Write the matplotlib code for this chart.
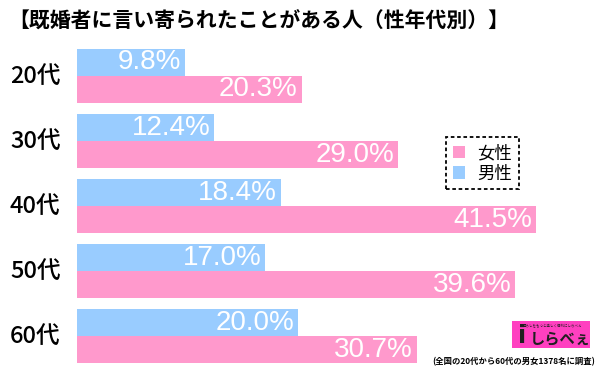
import matplotlib
matplotlib.use("Agg")
import matplotlib.pyplot as plt
import matplotlib.transforms as mtransforms
from matplotlib.patches import Patch, Rectangle
import numpy as np

plt.rcParams['font.family'] = ['Noto Sans CJK JP', 'DejaVu Sans']

# data
ages = ['20代', '30代', '40代', '50代', '60代']
male = [9.8, 12.4, 18.4, 17.0, 20.0]
female = [20.3, 29.0, 41.5, 39.6, 30.7]

title = '【既婚者に言い寄られたことがある人（性年代別）】'
note = '(全国の20代から60代の男女1378名に調査)'

blue = '#99ccff'
pink = '#ff99cc'

fig = plt.figure(figsize=(6, 3.71), dpi=100)
ax = fig.add_axes([77/600, 0, 523/600, 1])
ax.set_xlim(0, 523/11.07)
ax.set_ylim(4.538, -1.169)  # inverted so 20代 is on top
ax.axis('off')

y = np.arange(len(ages))
h = 27/65
ax.barh(y - h/2, male, height=h, color=blue, edgecolor='none')
ax.barh(y + h/2, female, height=h, color=pink, edgecolor='none')

# value labels, white, right side of each bar
for i in range(len(ages)):
    ax.text(male[i] - 0.35, y[i] - h/2, f'{male[i]:.1f}%', color='white',
            ha='right', va='center', fontsize=20, family='Liberation Sans')
    ax.text(female[i] - 0.35, y[i] + h/2, f'{female[i]:.1f}%', color='white',
            ha='right', va='center', fontsize=20, family='Liberation Sans')

# age labels on the left
tr = mtransforms.blended_transform_factory(fig.transFigure, ax.transData)
for i, a in enumerate(ages):
    ax.text(10/600, y[i], a, transform=tr, ha='left', va='center',
            fontsize=17, fontweight='medium', color='black')

fig.text(8/600, 1 - 21/371, title, ha='left', va='center',
         fontsize=15, fontweight='bold')

# legend with dashed frame
handles = [Patch(facecolor=pink, edgecolor='none', label='女性'),
           Patch(facecolor=blue, edgecolor='none', label='男性')]
leg = fig.legend(handles=handles, loc='upper left',
                 bbox_to_anchor=(446/600, 1 - 137/371), fontsize=12.5,
                 handlelength=0.7, handleheight=0.7, handletextpad=0.7,
                 labelspacing=0.15, borderpad=0.4, fancybox=False,
                 framealpha=1, borderaxespad=0)
fr = leg.get_frame()
fr.set_edgecolor('black')
fr.set_linestyle((0, (2, 1.5)))
fr.set_linewidth(1.3)

# logo box
fig.patches.append(Rectangle((512/600, 1 - 348/371), 78/600, 27/371,
                             transform=fig.transFigure, facecolor='#ff40c0',
                             edgecolor='none'))
fig.text(518/600, 1 - 336/371, 'i', fontsize=17, fontweight='bold',
         family='DejaVu Sans', va='center', ha='left', color='#202020')
fig.text(530/600, 1 - 338/371, 'しらべぇ', fontsize=11, fontweight='bold',
         va='center', ha='left', color='#202020')
fig.text(553/600, 1 - 326/371, '暮らしをもっと楽しく便利にしらべぇ', fontsize=2.5,
         va='center', ha='center', color='#202020')

fig.text(595/600, 1 - 362/371, note, ha='right', va='center',
         fontsize=6, fontweight='bold')

fig.savefig('out.png', dpi=100)
